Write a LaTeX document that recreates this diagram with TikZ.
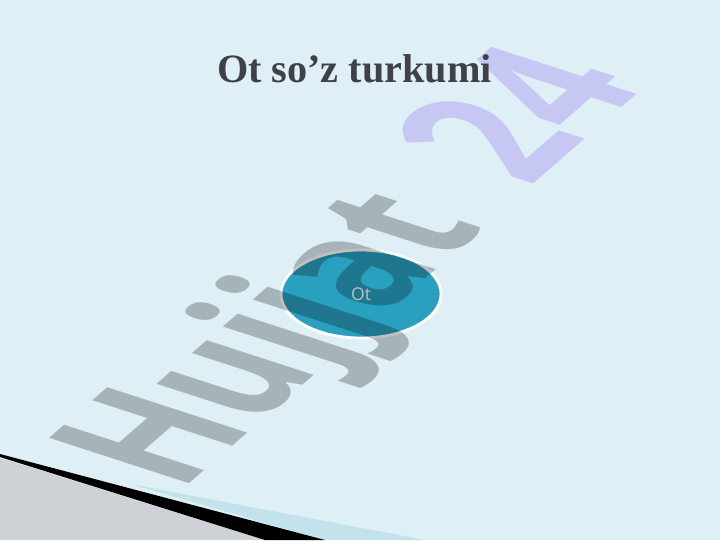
\documentclass[tikz,border=0pt]{standalone}
\usepackage{fontspec}
\setmainfont{Liberation Serif}
\newfontfamily\markfont{Open Sans}
\usetikzlibrary{shapes.geometric}
\usetikzlibrary{calc}

\definecolor{slidebg}{RGB}{222,240,246}
\definecolor{titlegray}{RGB}{64,64,72}
\definecolor{otteal}{RGB}{42,160,192}
\definecolor{markblue}{RGB}{134,80,242}
\definecolor{cornergray}{RGB}{206,209,213}
\definecolor{stripblue}{RGB}{194,226,236}

\tikzset{
  titletext/.style={anchor=base, inner sep=0pt, text=titlegray,
    font=\fontsize{28.6pt}{32pt}\selectfont\bfseries},
  otbubble/.style={ellipse, fill=otteal, draw=white, line width=2pt,
    minimum width=4cm, minimum height=2.2cm, text=white,
    font=\markfont\fontsize{12.5pt}{14pt}\selectfont},
  markword/.style={anchor=base west, inner sep=0pt, transform shape,
    font=\markfont\fontsize{28.45pt}{34pt}\selectfont\bfseries},
  markslant/.style={cm={2.49,2.165,-4.9,1.59,(180,492)}}
}

\begin{document}
\begin{tikzpicture}[x=0.025cm, y=-0.025cm]
    % slide
    \fill[slidebg] (0,0) rectangle (720,540);
    \useasboundingbox (0,0) rectangle (720,540);

    % corner at the bottom left
    \fill[cornergray] (0,458) -- (265,540) -- (0,540) -- cycle;
    \fill[stripblue] (130,484) -- (425,540) -- (325,540) -- cycle;
    \fill[black] (0,454) -- (325,540) -- (265,540) -- (0,457) -- cycle;

    % watermark number, under the title
    \begin{scope}[markslant]
        \node[markword, text opacity=0] (hujjatref) at (0,0) {Hujjat};
        \node[markword, text=markblue, text opacity=0.25] (num) at (hujjatref.base east)
            {\hspace{0.42em}\fontsize{29.5pt}{34pt}\selectfont 24};
    \end{scope}

    % title
    \node[titletext] (title) at (354.5,82) {Ot so’z turkumi};

    % the one word
    \node[otbubble] (ot) at (361,294) {Ot};

    % watermark word over the bubble
    \begin{scope}[markslant]
        \node[markword, text=black, text opacity=0.25] (hujjat) at (0,0) {Hujjat};
    \end{scope}

\end{tikzpicture}
\end{document}
